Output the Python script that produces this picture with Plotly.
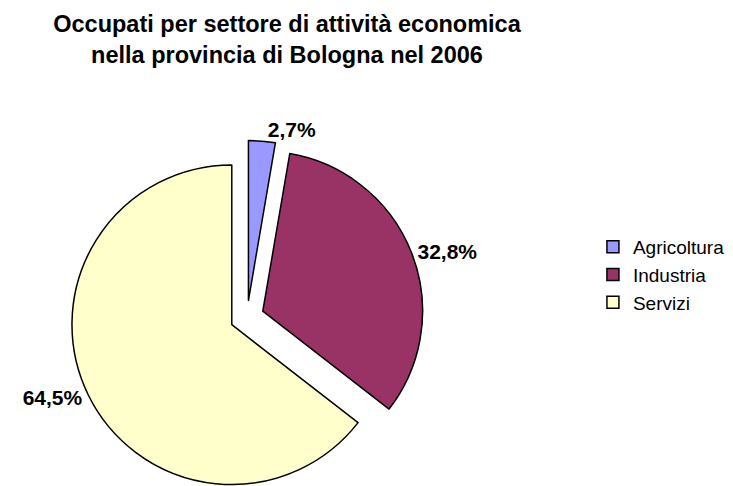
import plotly.graph_objects as go

categories = ["Agricoltura", "Industria", "Servizi"]
shares = [2.7, 32.8, 64.5]
label_texts = ["2,7%", "32,8%", "64,5%"]
colors = ["#9999FF", "#993366", "#FFFFCC"]

W, H = 733, 486

fig = go.Figure(
    go.Pie(
        labels=categories,
        values=shares,
        text=label_texts,
        textinfo="text",
        textposition="outside",
        textfont=dict(family="Liberation Sans, Arial, sans-serif", size=21, color="black", weight="bold"),
        marker=dict(colors=colors, line=dict(color="black", width=1.5)),
        pull=[0.106, 0.106, 0.106],
        sort=False,
        direction="clockwise",
        rotation=0,
        hoverinfo="label+percent",
        domain=dict(x=[62.25 / W, 415.75 / W], y=[0, (H - 132.5) / H]),
    )
)

fig.update_layout(
    width=W,
    height=H,
    margin=dict(l=0, r=0, t=0, b=0, autoexpand=False),
    paper_bgcolor="white",
    plot_bgcolor="white",
    font=dict(family="Liberation Sans, Arial, sans-serif", color="black"),
    title=dict(
        text="<b>Occupati per settore di attività economica<br>nella provincia di Bologna nel 2006</b>",
        x=279 / W,
        xanchor="center",
        y=1 - 24 / H,
        yanchor="top",
        yref="container",
        font=dict(size=23.5, color="black"),
    ),
    legend=dict(
        x=0.798,
        y=1 - 267 / H,
        yanchor="middle",
        xanchor="left",
        font=dict(size=19, color="black"),
        bgcolor="rgba(0,0,0,0)",
    ),
)

fig.write_html("out.html")
